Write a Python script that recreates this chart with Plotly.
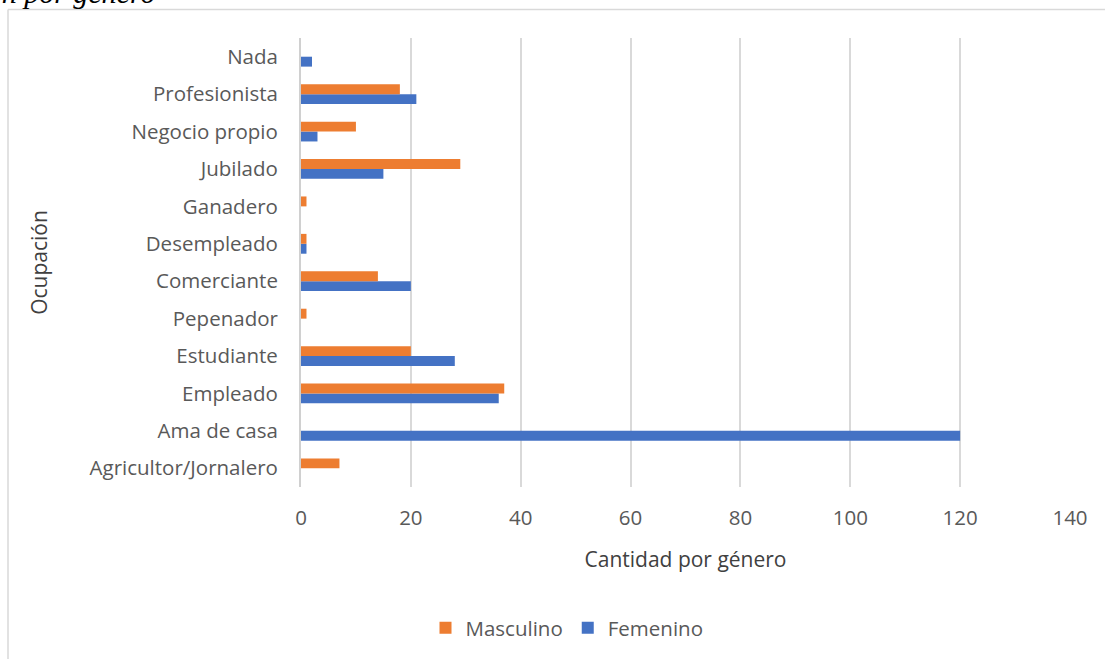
import plotly.graph_objects as go

# Occupation categories, listed bottom to top as drawn on the y axis
categorias = [
    "Agricultor/Jornalero", "Ama de casa", "Empleado", "Estudiante",
    "Pepenador", "Comerciante", "Desempleado", "Ganadero",
    "Jubilado", "Negocio propio", "Profesionista", "Nada",
]
masculino = [7, 0, 37, 20, 1, 14, 1, 1, 29, 10, 18, 0]
femenino = [0, 120, 36, 28, 0, 20, 1, 0, 15, 3, 21, 2]

x_ticks = [0, 20, 40, 60, 80, 100, 120, 140]

NARANJA = "#ED7D31"
AZUL = "#4472C4"
GRIS_TEXTO = "#595959"
FUENTE = "'Open Sans', Lato, sans-serif"

W, H = 1105, 659
ML, MR, MT, MB = 301, 35, 38, 172
PW, PH = W - ML - MR, H - MT - MB


def px_to_paper_x(px):
    return (px - ML) / PW


def px_to_paper_y(py):
    return 1 - (py - MT) / PH


fig = go.Figure()
# Femenino first so that Masculino sits above it in each group
fig.add_trace(go.Bar(
    y=categorias, x=femenino, name="Femenino", orientation="h",
    marker=dict(color=AZUL, line=dict(width=0)), legendrank=2,
))
fig.add_trace(go.Bar(
    y=categorias, x=masculino, name="Masculino", orientation="h",
    marker=dict(color=NARANJA, line=dict(width=0)), legendrank=1,
))

fig.update_layout(
    width=W, height=H,
    margin=dict(l=ML, r=MR, t=MT, b=MB, autoexpand=False),
    paper_bgcolor="white", plot_bgcolor="white",
    barmode="group", bargap=0.47, bargroupgap=0,
    font=dict(family=FUENTE, size=21, color=GRIS_TEXTO),
    showlegend=True,
    legend=dict(
        orientation="h", x=px_to_paper_x(567), xanchor="center",
        y=px_to_paper_y(628), yanchor="middle",
        font=dict(size=20.5, color=GRIS_TEXTO), itemwidth=30,
        traceorder="normal",
    ),
    xaxis=dict(
        range=[0, 140], tickvals=x_ticks, ticktext=[str(v) for v in x_ticks],
        showgrid=True, gridcolor="#D9D9D9", gridwidth=1.5,
        zeroline=False, showline=False, ticks="",
        ticklabelstandoff=16,
        tickfont=dict(size=20.5, color=GRIS_TEXTO),
        title=dict(text="Cantidad por género", standoff=22,
                   font=dict(size=21, color="#404040")),
        fixedrange=True,
    ),
    yaxis=dict(
        type="category", categoryorder="array", categoryarray=categorias,
        showgrid=False, showline=True, linecolor="#D0D0D0", linewidth=2,
        ticks="", ticklabelstandoff=17,
        tickfont=dict(size=20.5, color=GRIS_TEXTO),
        title=dict(text="Ocupación", standoff=36,
                   font=dict(size=21, color="#404040")),
        fixedrange=True,
    ),
)

# Chart frame (top and left edges)
fig.add_shape(type="line", xref="paper", yref="paper",
              x0=px_to_paper_x(8), x1=px_to_paper_x(1110),
              y0=px_to_paper_y(9.5), y1=px_to_paper_y(9.5),
              line=dict(color="#D9D9D9", width=1.5))
fig.add_shape(type="line", xref="paper", yref="paper",
              x0=px_to_paper_x(8), x1=px_to_paper_x(8),
              y0=px_to_paper_y(9.5), y1=px_to_paper_y(665),
              line=dict(color="#D9D9D9", width=1.5))

# Caption line above the chart frame
fig.add_annotation(
    text="<i>Ocupación por género</i>", xref="paper", yref="paper",
    x=px_to_paper_x(157), y=px_to_paper_y(10), xanchor="right", yanchor="bottom",
    showarrow=False, borderpad=0,
    font=dict(family="'Liberation Serif', serif", size=30, color="black"),
)

fig.write_html("out.html")
